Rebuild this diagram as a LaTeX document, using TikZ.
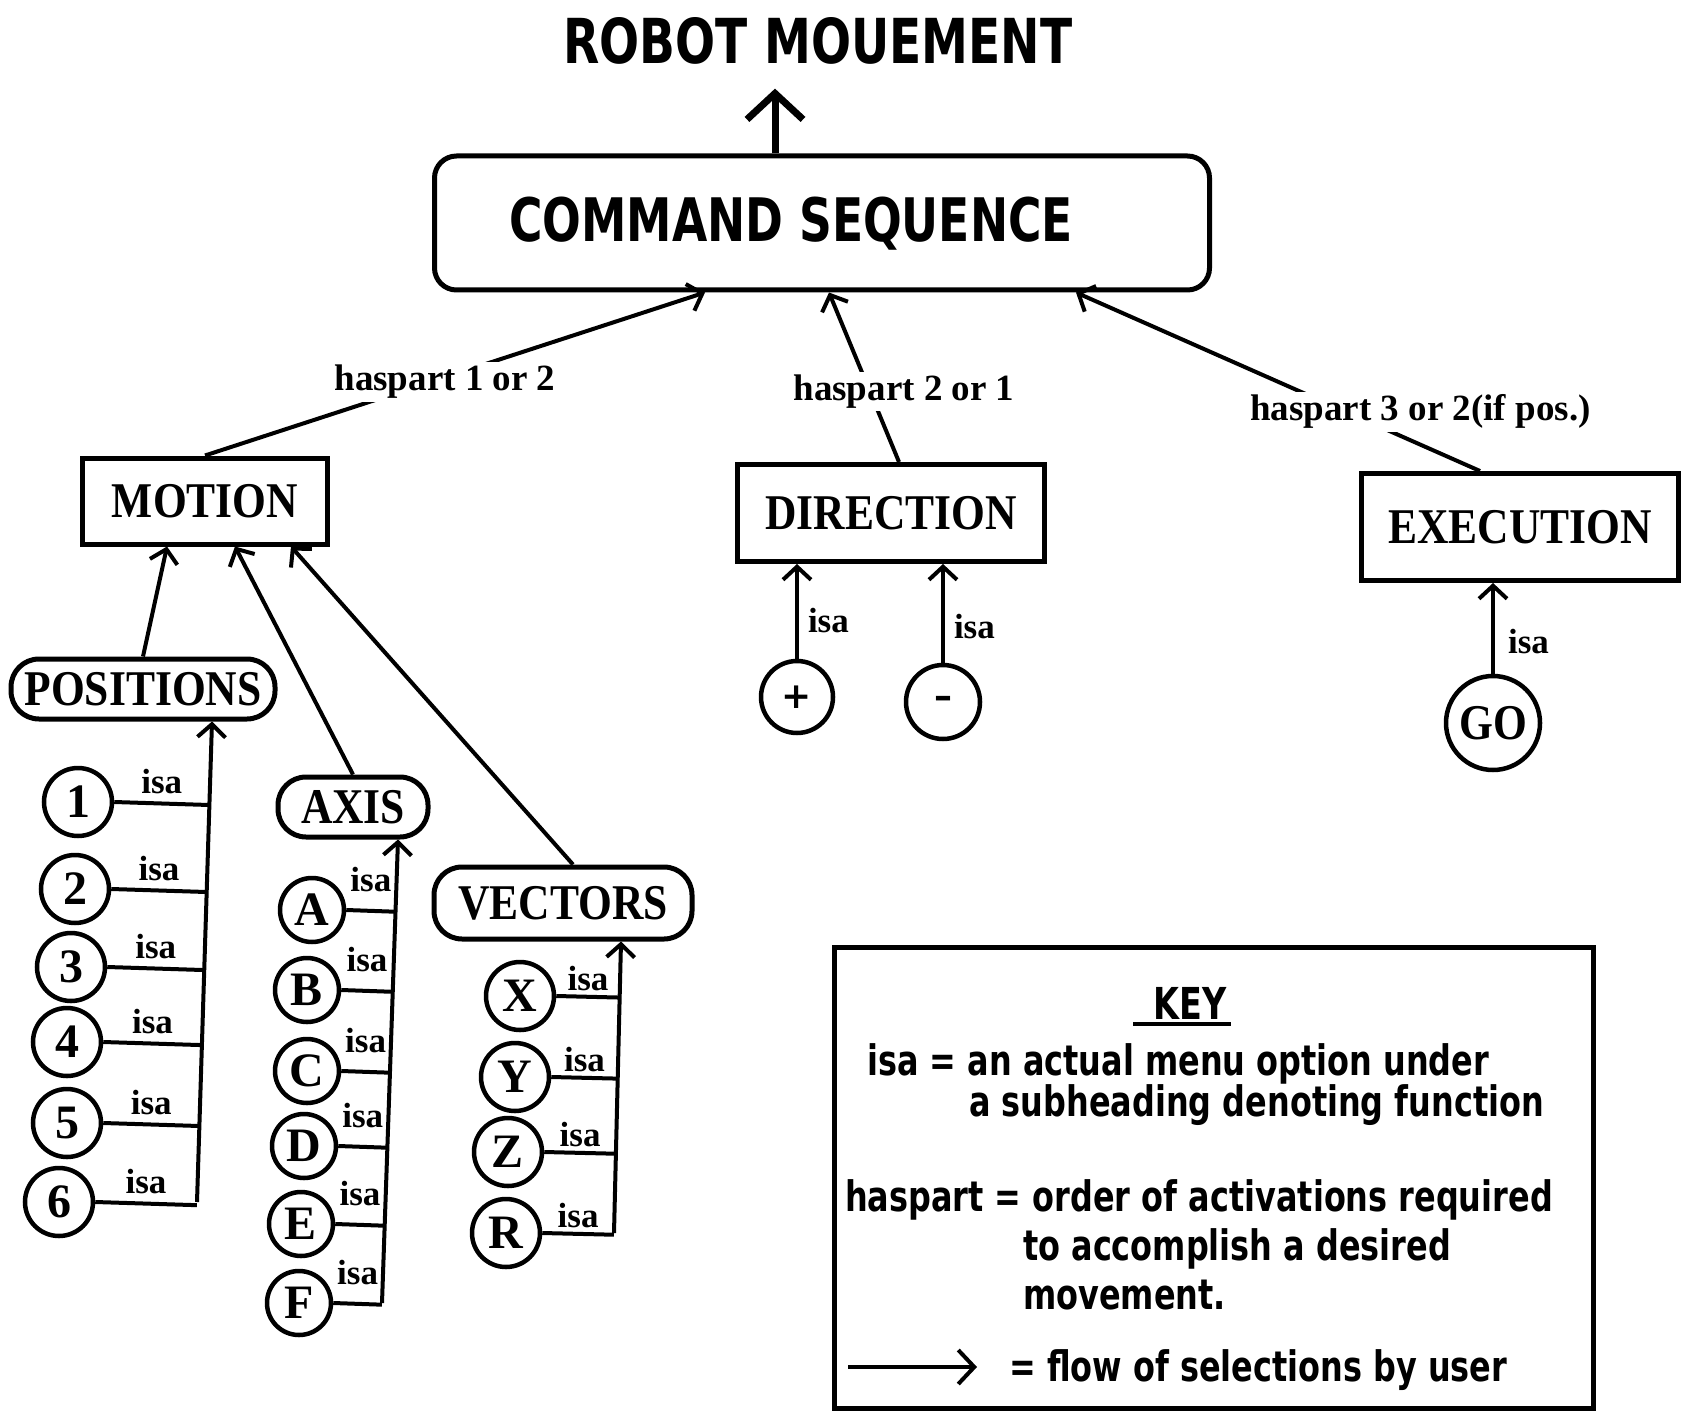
\documentclass[tikz,border=0pt]{standalone}
\usepackage{fontspec}
\setmainfont{Liberation Serif}
\newfontfamily\nodef[FakeStretch=0.87]{Liberation Serif}
\newfontfamily\chic[FakeStretch=0.76]{DejaVu Sans}
\newfontfamily\signf{DejaVu Sans}
\usetikzlibrary{arrows.meta,calc}
\begin{document}
\begin{tikzpicture}[x=1pt,y=-1pt,
  every node/.style={inner sep=0pt},
  lw/.style={line width=4pt},
  sqbox/.style={draw, line width=5pt, font=\nodef\bfseries\fontsize{50}{50}\selectfont},
  rbox/.style={draw, rounded corners=28pt, line width=5pt, font=\nodef\bfseries\fontsize{50}{50}\selectfont},
  opt/.style={draw, circle, line width=4.5pt, minimum size=68pt, font=\bfseries\fontsize{48}{48}\selectfont},
  isa/.style={font=\bfseries\fontsize{35}{35}\selectfont, inner sep=1pt},
  hp/.style={font=\bfseries\fontsize{37}{37}\selectfont, fill=white, inner sep=3pt},
  arr/.style={line width=4pt, -{Straight Barb[length=13pt,width=28pt]}},
  keytxt/.style={anchor=west, font=\chic\bfseries\fontsize{42}{42}\selectfont},
]
\useasboundingbox (0,0) rectangle (1688,1412);

% top
\node[font=\chic\bfseries\fontsize{62}{62}\selectfont] (title) at (818,41) {ROBOT MOUEMENT};
\node[draw, rounded corners=22pt, line width=5pt, minimum width=775pt, minimum height=134pt] (cs) at (822,223) {};
\node[font=\chic\bfseries\fontsize{60}{60}\selectfont] (cstext) at (791,224) {COMMAND SEQUENCE};
\draw[line width=7pt, -{Straight Barb[length=26pt,width=56pt]}] ([xshift=-47pt]cs.north) -- ([xshift=-43pt,yshift=-24pt]title.south);

% subheadings
\node[sqbox, minimum width=245pt, minimum height=86pt] (motion) at (205,501) {MOTION};
\node[sqbox, minimum width=307pt, minimum height=97pt] (direction) at (891,513) {DIRECTION};
\node[sqbox, minimum width=317pt, minimum height=107pt] (execution) at (1520,527) {EXECUTION};

\draw[arr] (motion.north) -- node[hp, pos=0.452, xshift=14pt] {haspart 1 or 2} ([xshift=-117pt]cs.south);
\draw[arr] ([xshift=8pt]direction.north) -- node[hp, pos=0.415, xshift=34pt] {haspart 2 or 1} ([xshift=7pt]cs.south);
\draw[arr] ([xshift=-40pt]execution.north) -- node[hp, pos=0.333, xshift=75pt] {haspart 3 or 2(if pos.)} ([xshift=254pt]cs.south);

% motion children
\node[rbox, minimum width=264pt, minimum height=60pt] (positions) at (143,689) {POSITIONS};
\node[rbox, minimum width=150pt, minimum height=60pt] (axis) at (353,807) {AXIS};
\node[rbox, minimum width=258pt, minimum height=72pt] (vectors) at (563,903) {VECTORS};
\draw[arr] (positions.north) -- ([xshift=-38pt]motion.south);
\draw[arr] (axis.north) -- ([xshift=30pt]motion.south);
\draw[arr] ([xshift=10pt]vectors.north) -- ([xshift=86pt]motion.south);

% positions options
\node[opt] (p1) at (78,802) {1};
\node[opt] (p2) at (75,889) {2};
\node[opt] (p3) at (71,967) {3};
\node[opt] (p4) at (67,1042) {4};
\node[opt] (p5) at (67,1123) {5};
\node[opt] (p6) at (59,1202) {6};
\coordinate (ptop) at ([xshift=69pt]positions.south);
\coordinate (pbot) at (197,1202);
\draw[arr] (pbot) -- (ptop);
\foreach \n in {p1,p2,p3,p4,p5,p6}
  \draw[lw] (\n.east) -- node[isa, midway, above=7pt] {isa} ($(pbot)!(\n.east)!(ptop)$);

% axis options
\node[opt, minimum size=64pt] (a1) at (312,910) {A};
\node[opt, minimum size=64pt] (a2) at (307,990) {B};
\node[opt, minimum size=64pt] (a3) at (307,1071) {C};
\node[opt, minimum size=64pt] (a4) at (304,1146) {D};
\node[opt, minimum size=64pt] (a5) at (301,1224) {E};
\node[opt, minimum size=64pt] (a6) at (299,1303) {F};
\coordinate (atop) at ([xshift=45pt]axis.south);
\coordinate (abot) at (382,1303);
\draw[arr] (abot) -- (atop);
\foreach \n in {a1,a2,a3,a4,a5,a6}
  \draw[lw] (\n.east) -- node[isa, midway, above=16pt] {isa} ($(abot)!(\n.east)!(atop)$);

% vectors options
\node[opt] (v1) at (520,996) {X};
\node[opt] (v2) at (515,1077) {Y};
\node[opt] (v3) at (508,1152) {Z};
\node[opt] (v4) at (506,1233) {R};
\coordinate (vtop) at ([xshift=58pt]vectors.south);
\coordinate (vbot) at (614,1233);
\draw[arr] (vbot) -- (vtop);
\foreach \n in {v1,v2,v3,v4}
  \draw[lw] (\n.east) -- node[isa, midway, above=3pt] {isa} ($(vbot)!(\n.east)!(vtop)$);

% direction options
\node[opt, minimum size=72pt, font=\signf\bfseries\fontsize{36}{36}\selectfont] (plus) at (797,697) {+};
\node[opt, minimum size=74pt, font=\signf\bfseries\fontsize{36}{36}\selectfont] (minus) at (943,702) {–};
\draw[arr] (plus.north) -- node[isa, pos=0.4, right=8pt] {isa} ([xshift=-94pt]direction.south);
\draw[arr] (minus.north) -- node[isa, pos=0.37, right=8pt] {isa} ([xshift=52pt]direction.south);

% execution option
\node[opt, minimum size=94pt, font=\nodef\bfseries\fontsize{50}{50}\selectfont] (go) at (1493,723) {GO};
\draw[arr] (go.north) -- node[isa, pos=0.35, right=12pt] {isa} ([xshift=-27pt]execution.south);

% key
\node[draw, line width=5pt, minimum width=759pt, minimum height=461pt] (key) at (1213.5,1177.5) {};
\node[font=\chic\bfseries\fontsize{44}{44}\selectfont] (keyt) at (1190,1003) {KEY};
\draw[line width=4pt] ([xshift=-20pt,yshift=-5pt]keyt.south west) -- ([xshift=4pt,yshift=-5pt]keyt.south east);
\node[keytxt] (k1) at (867,1064) {isa = an actual menu option under};
\node[keytxt] (k2) at (969,1105) {a subheading denoting function};
\node[keytxt] (k3) at (845,1200) {haspart = order of activations required};
\node[keytxt] (k4) at (1023,1249) {to accomplish a desired};
\node[keytxt] (k5) at (1023,1295) {movement.};
\coordinate (ka1) at (848,1367);
\coordinate (ka2) at (977,1367);
\draw[line width=4pt, -{Straight Barb[length=16pt,width=34pt]}] (ka1) -- (ka2);
\node[keytxt] (k6) at (1009,1370) {= flow of selections by user};
\end{tikzpicture}
\end{document}
